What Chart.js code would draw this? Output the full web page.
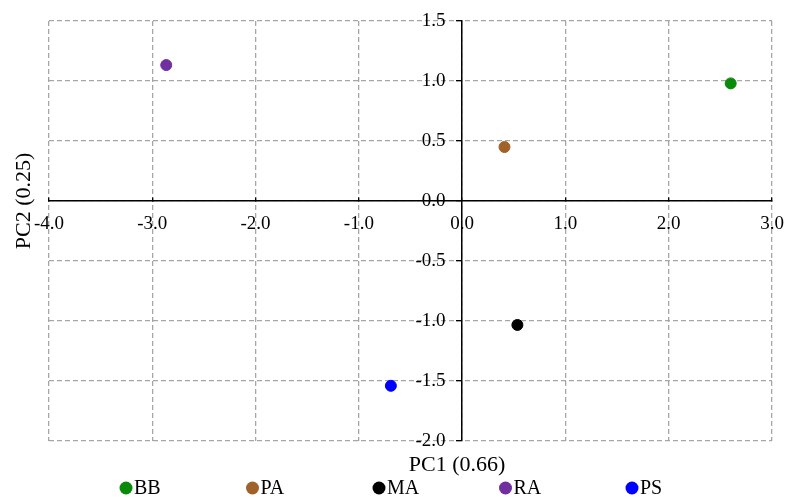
<!DOCTYPE html>
<html>
<head>
<meta charset="utf-8">
<script src="https://cdn.jsdelivr.net/npm/chart.js@4"></script>
<style>
  html, body { margin: 0; padding: 0; background: #fff; }
  #wrap { width: 786px; height: 498px; }
</style>
</head>
<body>
<div id="wrap"><canvas id="pca"></canvas></div>
<script>
// data
const groups = ['BB', 'PA', 'MA', 'RA', 'PS'];
const pc1 = [2.60, 0.41, 0.535, -2.865, -0.69];
const pc2 = [0.98, 0.45, -1.033, 1.133, -1.54];
const colors = ['#0a8a0a', '#a0622a', '#000000', '#7030a0', '#0000ff'];
const xTitle = 'PC1 (0.66)';
const yTitle = 'PC2 (0.25)';

const serif = "'Liberation Serif', 'Times New Roman', serif";

// axis titles + legend drawn by hand (fixed spacing like the original)
const extras = {
  id: 'extras',
  afterDraw(chart) {
    const ctx = chart.ctx;
    ctx.save();
    ctx.fillStyle = '#000';
    ctx.font = '22px ' + serif;
    ctx.textAlign = 'center';
    ctx.textBaseline = 'middle';
    ctx.fillText(xTitle, 457, 465);
    ctx.save();
    ctx.translate(24, chart.scales.y.getPixelForValue(0));
    ctx.rotate(-Math.PI / 2);
    ctx.fillText(yTitle, 0, 0);
    ctx.restore();

    // legend
    ctx.font = '20px ' + serif;
    ctx.textAlign = 'left';
    chart.data.datasets.forEach((ds, i) => {
      const cx = 126 + i * 126.5;
      const cy = 488;
      ctx.beginPath();
      ctx.arc(cx, cy, 6.5, 0, Math.PI * 2);
      ctx.fillStyle = ds.backgroundColor;
      ctx.fill();
      ctx.fillStyle = '#000';
      ctx.fillText(ds.label, cx + 8, cy + 1);
    });
    ctx.restore();
  }
};

// axes sit inside the plot, so their label overflow should not shrink it
const noOverflow = s => {
  s.paddingLeft = 0; s.paddingRight = 0; s.paddingTop = 0; s.paddingBottom = 0;
};

const datasets = groups.map((g, i) => ({
  label: g,
  data: [{ x: pc1[i], y: pc2[i] }],
  backgroundColor: colors[i],
  borderColor: colors[i],
  pointRadius: 5.5,
  pointHoverRadius: 5.5
}));

const tickFont = { family: serif, size: 19 };
const fmt = v => v.toFixed(1);

new Chart(document.getElementById('pca'), {
  type: 'scatter',
  data: { datasets: datasets },
  options: {
    responsive: true,
    maintainAspectRatio: false,
    animation: false,
    layout: { padding: { left: 49, right: 14, top: 21, bottom: 57 } },
    plugins: {
      legend: { display: false },
      tooltip: { enabled: false }
    },
    scales: {
      x: {
        type: 'linear',
        position: { y: 0 },
        min: -4, max: 3,
        afterFit: noOverflow,
        ticks: { stepSize: 1, color: '#000', font: tickFont, padding: 16, callback: fmt },
        grid: { color: '#a6a6a6', lineWidth: 1.3, tickLength: -4, tickColor: '#000' },
        border: { color: '#000', width: 1.5, dash: [5, 3] }
      },
      y: {
        type: 'linear',
        position: { x: 0 },
        min: -2, max: 1.5,
        afterFit: noOverflow,
        ticks: { stepSize: 0.5, display: false },
        grid: { color: '#a6a6a6', lineWidth: 1.3, tickLength: 5, tickColor: '#000' },
        border: { color: '#000', width: 1.5, dash: [5, 3] }
      },
      // labels only, set a little left of the y axis
      yLabels: {
        type: 'linear',
        position: { x: -0.16 },
        min: -2, max: 1.5,
        afterFit: noOverflow,
        ticks: { stepSize: 0.5, color: '#000', font: tickFont, callback: fmt },
        grid: { display: false },
        border: { display: false }
      }
    }
  },
  plugins: [extras]
});
</script>
</body>
</html>
